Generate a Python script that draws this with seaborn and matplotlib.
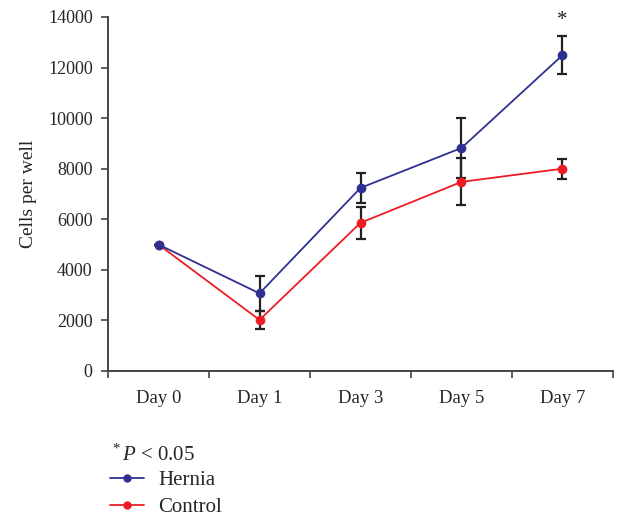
import seaborn as sns
import matplotlib.pyplot as plt
from matplotlib.lines import Line2D
import pandas as pd
import numpy as np

# Data
days = ['Day 0', 'Day 1', 'Day 3', 'Day 5', 'Day 7']
hernia = [5000, 3070, 7240, 8820, 12490]
hernia_err = [0, 690, 600, 1180, 750]
control = [5000, 2020, 5860, 7480, 8000]
control_err = [0, 360, 630, 930, 400]

navy = '#2E3192'
red = '#ED1C24'

df = pd.DataFrame({
    'Day': days * 2,
    'Cells': hernia + control,
    'Group': ['Hernia'] * len(days) + ['Control'] * len(days),
})

sns.set_style('ticks')
plt.rcParams['font.family'] = ['Liberation Serif', 'DejaVu Serif']
plt.rcParams['mathtext.fontset'] = 'custom'
plt.rcParams['mathtext.rm'] = 'Liberation Serif'
plt.rcParams['mathtext.it'] = 'Liberation Serif:italic'

fig = plt.figure(figsize=(6.38, 5.18), dpi=100)
ax = fig.add_axes([0.1693, 0.2838, 0.7915, 0.6834])

x = np.arange(len(days))
ax.errorbar(x, hernia, yerr=hernia_err, fmt='none', ecolor='#222222',
            elinewidth=1.6, capsize=3.5, capthick=1.6, zorder=2)
ax.errorbar(x, control, yerr=control_err, fmt='none', ecolor='#222222',
            elinewidth=1.6, capsize=3.5, capthick=1.6, zorder=2)

sns.lineplot(data=df, x='Day', y='Cells', hue='Group', hue_order=['Control', 'Hernia'],
             palette={'Hernia': navy, 'Control': red}, marker='o', markersize=7,
             markeredgewidth=0, linewidth=1.3, sort=False, legend=False, ax=ax, zorder=3)

# significance star above day 7 error bar
ax.text(x[-1], hernia[-1] + hernia_err[-1] + 250, '*', ha='center', va='bottom',
        fontsize=15, color='#222222')

ax.set_xlim(-0.5, len(days) - 0.5)
ax.set_ylim(0, 14000)
ax.set_yticks(np.arange(0, 14001, 2000))
ax.set_xticks(x)
ax.set_xticklabels(days)
ax.set_xticks(np.arange(-0.5, len(days), 1), minor=True)
ax.tick_params(axis='x', which='major', bottom=False, length=0, pad=14, labelsize=13.5)
ax.tick_params(axis='x', which='minor', bottom=True, length=5, width=1.2, color='#444444', direction='out')
ax.tick_params(axis='y', left=True, length=5, width=1.2, color='#444444', direction='out',
               labelsize=13, pad=6)
ax.set_xlabel('')
ax.set_ylabel('Cells per well', fontsize=14, labelpad=8)
for side in ['top', 'right']:
    ax.spines[side].set_visible(False)
for side in ['left', 'bottom']:
    ax.spines[side].set_color('#444444')
    ax.spines[side].set_linewidth(1.4)

fig.text(0.172, 0.1, r'$^*\it{P}$ < 0.05', fontsize=15, va='bottom', ha='left')

handles = [Line2D([0], [0], color=navy, marker='o', markersize=6, markeredgewidth=0, lw=1.3),
           Line2D([0], [0], color=red, marker='o', markersize=6, markeredgewidth=0, lw=1.3)]
fig.legend(handles, ['Hernia', 'Control'], loc='upper left', bbox_to_anchor=(0.173, 0.092),
           frameon=False, fontsize=15, handlelength=1.6, handletextpad=0.7, labelspacing=0.35,
           borderaxespad=0, borderpad=0)

fig.savefig('out.png', dpi=100)
plt.close(fig)
